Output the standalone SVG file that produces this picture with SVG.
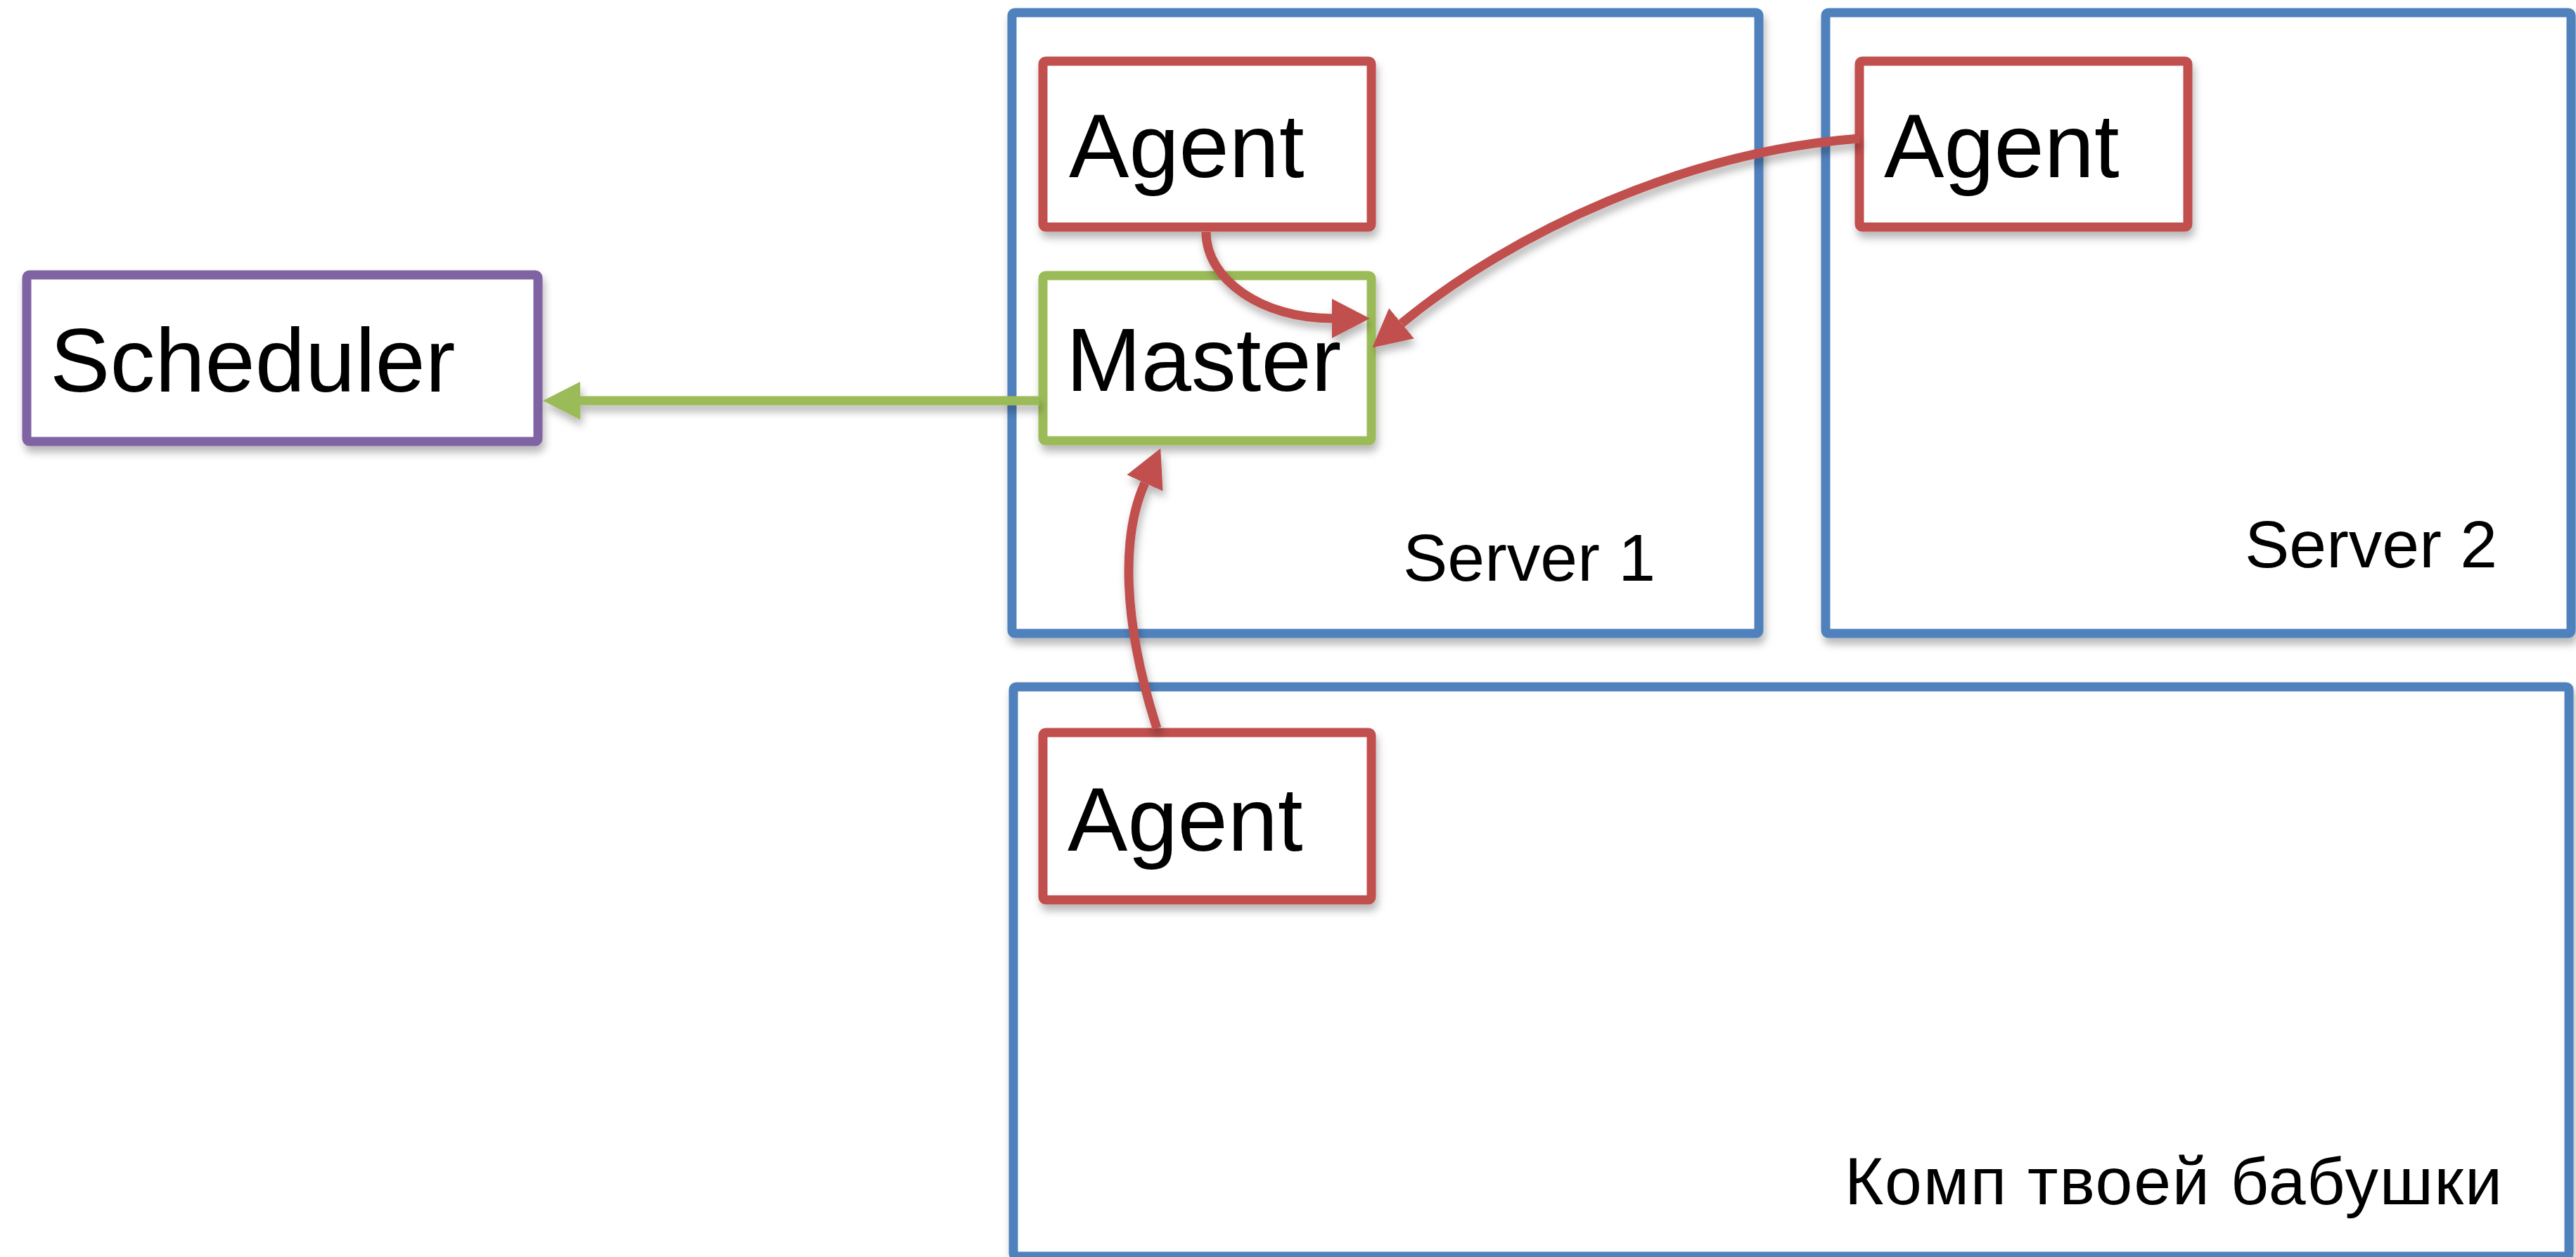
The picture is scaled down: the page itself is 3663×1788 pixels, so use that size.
<svg xmlns="http://www.w3.org/2000/svg" width="3663" height="1788" viewBox="0 0 3663 1788">
<style>
.box{fill:#ffffff;stroke-width:13;filter:url(#sh)}
.srv{stroke:#4F81BD}
.agent{stroke:#C0504D}
.master{stroke:#9BBB59}
.sched{stroke:#8064A2}
.big{font-family:"Liberation Sans",Arial,Helvetica,sans-serif;font-size:128px;fill:#000}
.small{font-family:"Liberation Sans",Arial,Helvetica,sans-serif;font-size:95px;fill:#000}
.red{fill:none;stroke:#C0504D;stroke-width:13;marker-end:url(#ar);filter:url(#shu)}
.grn{fill:none;stroke:#9BBB59;stroke-width:13;marker-end:url(#ag);filter:url(#shu)}
</style>
<defs>
<filter id="sh" x="-10%" y="-10%" width="130%" height="130%">
<feDropShadow dx="3" dy="9" stdDeviation="6" flood-color="#000" flood-opacity="0.28"/>
</filter>
<filter id="shu" filterUnits="userSpaceOnUse" x="0" y="0" width="3663" height="1788">
<feDropShadow dx="3" dy="9" stdDeviation="6" flood-color="#000" flood-opacity="0.28"/>
</filter>
<marker id="ar" viewBox="0 -28 54 56" refX="0" refY="0" markerWidth="54" markerHeight="56" markerUnits="userSpaceOnUse" orient="auto">
<path d="M0,-28 L54,0 L0,28 z" fill="#C0504D"/>
</marker>
<marker id="ag" viewBox="0 -27 53 54" refX="0" refY="0" markerWidth="53" markerHeight="54" markerUnits="userSpaceOnUse" orient="auto">
<path d="M0,-27 L53,0 L0,27 z" fill="#9BBB59"/>
</marker>
</defs>
<rect width="3663" height="1788" fill="#ffffff"/>
<g id="server1">
<rect class="box srv" x="1439" y="18" width="1062" height="883" rx="4"/>
<text class="small" x="1995" y="826">Server 1</text>
</g>
<g id="server2">
<rect class="box srv" x="2596" y="18" width="1060" height="883" rx="4"/>
<text class="small" x="3192" y="807">Server 2</text>
</g>
<g id="grandma">
<rect class="box srv" x="1441" y="977" width="2212" height="810" rx="4"/>
<text class="small" x="2623" y="1713" textLength="935" lengthAdjust="spacing">Комп твоей бабушки</text>
</g>
<g id="scheduler">
<rect class="box sched" x="38" y="391" width="727" height="237" rx="4"/>
<text class="big" x="71" y="557">Scheduler</text>
</g>
<g id="agent1">
<rect class="box agent" x="1483" y="87" width="467" height="236" rx="4"/>
<text class="big" x="1520" y="252">Agent</text>
</g>
<g id="master">
<rect class="box master" x="1483" y="392" width="467" height="235" rx="4"/>
<text class="big" x="1516" y="556">Master</text>
</g>
<g id="agent2">
<rect class="box agent" x="2644" y="87" width="467" height="236" rx="4"/>
<text class="big" x="2679" y="252">Agent</text>
</g>
<g id="agent3">
<rect class="box agent" x="1483" y="1042" width="467" height="238" rx="4"/>
<text class="big" x="1518" y="1210">Agent</text>
</g>
<g id="connectors">
<path class="grn" d="M1478,570 L825,570"/>
<path class="red" d="M1715,330 C1715,398 1795,453 1894,453"/>
<path class="red" d="M2644,197 C2400,215 2150,330 1993,460"/>
<path class="red" d="M1645,1036 C1595,880 1595,760 1628,687"/>
</g>
</svg>
